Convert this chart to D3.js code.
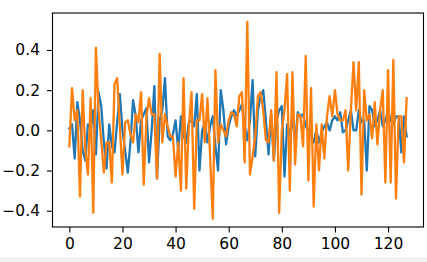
<!DOCTYPE html>
<html>
<head>
<meta charset="utf-8">
<script src="https://cdn.jsdelivr.net/npm/d3@7"></script>
<style>
  body { margin: 0; background: #f0f0f0; }
  svg { display: block; background: #ffffff; }
  text { font-family: "DejaVu Sans", sans-serif; }
</style>
</head>
<body>
<div id="chart"></div>
<script>
// series values, index 0..127
const blue = [
  0.01, 0.03, -0.14, 0.14, 0.05, -0.1, -0.15, 0.03, 0.0, 0.1,
  -0.12, 0.19, 0.12, -0.06, -0.19, 0.03, -0.08, -0.11, 0.04, 0.18,
  0.0, -0.1, -0.21, -0.06, 0.15, 0.07, -0.11, 0.05, 0.08, 0.11,
  -0.16, 0.0, 0.22, -0.24, 0.05, 0.1, 0.26, -0.03, -0.05, -0.02,
  0.05, -0.1, 0.07, -0.03, -0.06, 0.04, 0.05, 0.02, 0.18, -0.2,
  0.0, 0.04, -0.06, 0.02, 0.07, -0.08, -0.2, 0.2, 0.1, -0.07,
  0.02, 0.07, 0.1, 0.07, 0.1, 0.13, 0.02, -0.05, 0.05, 0.25,
  -0.13, 0.1, 0.17, 0.2, 0.05, -0.12, 0.08, -0.15, 0.05, 0.1,
  0.12, -0.23, 0.03, -0.03, 0.07, -0.06, 0.09, 0.07, 0.08, 0.02,
  0.0, -0.03, -0.06, 0.0, -0.06, -0.01, 0.02, 0.04, 0.0, 0.05,
  0.07, 0.05, 0.09, -0.01, 0.0, 0.05, 0.1, 0.0, 0.0, 0.1,
  0.04, 0.05, -0.2, 0.12, 0.1, 0.02, 0.05, 0.1, 0.02, 0.05,
  0.1, 0.05, 0.03, 0.07, 0.07, -0.11, 0.07, -0.03
];
const orange = [
  -0.08, 0.21, 0.05, 0.1, -0.33, 0.2, -0.1, -0.22, 0.16, -0.41,
  0.41, 0.1, -0.05, -0.21, -0.06, -0.06, -0.26, 0.23, 0.26, 0.02,
  -0.22, 0.04, 0.05, -0.02, -0.06, 0.08, 0.04, 0.19, -0.27, 0.06,
  0.16, 0.08, 0.08, -0.24, 0.38, -0.06, 0.08, 0.02, -0.03, -0.03,
  -0.23, -0.06, -0.3, 0.26, -0.29, 0.02, 0.19, -0.39, 0.05, 0.05,
  0.18, -0.06, 0.16, -0.13, -0.44, 0.3, -0.06, 0.03, 0.0, -0.03,
  0.05, 0.09, 0.08, 0.02, 0.17, 0.19, -0.16, 0.54, -0.22, -0.13,
  -0.03, 0.17, 0.19, 0.1, -0.05, -0.06, 0.1, -0.15, 0.29, -0.41,
  0.0, 0.1, 0.28, -0.3, 0.29, -0.17, 0.08, 0.07, -0.08, 0.37,
  -0.25, 0.21, -0.38, 0.03, -0.2, 0.03, -0.14, 0.07, 0.17, 0.07,
  0.2, 0.08, 0.05, 0.05, 0.1, -0.2, 0.1, 0.34, 0.1, 0.34,
  -0.32, 0.2, 0.05, 0.08, -0.04, 0.14, -0.07, 0.1, 0.2, -0.26,
  0.3, -0.26, 0.35, -0.34, 0.07, 0.07, -0.16, 0.16
];
const xTicks = [0, 20, 40, 60, 80, 100, 120];
const yTicks = [-0.4, -0.2, 0.0, 0.2, 0.4];

const W = 427, H = 257;
const margin = { top: 13, right: 3.5, bottom: 30, left: 52.5 };

const svg = d3.select("#chart")
  .append("svg")
  .attr("width", W)
  .attr("height", H);

const x = d3.scaleLinear()
  .domain([-6.35, 133.35])
  .range([margin.left, W - margin.right]);
const y = d3.scaleLinear()
  .domain([-0.481, 0.584])
  .range([H - margin.bottom, margin.top]);

const line = d3.line()
  .x((d, i) => x(i))
  .y(d => y(d));

const plot = svg.append("g");
plot.append("path")
  .datum(blue)
  .attr("fill", "none")
  .attr("stroke", "#1f77b4")
  .attr("stroke-width", 2.3)
  .attr("stroke-linejoin", "round")
  .attr("stroke-linecap", "square")
  .attr("d", line);
plot.append("path")
  .datum(orange)
  .attr("fill", "none")
  .attr("stroke", "#ff7f0e")
  .attr("stroke-width", 2.3)
  .attr("stroke-linejoin", "round")
  .attr("stroke-linecap", "square")
  .attr("d", line);

const fmt = v => d3.format(".1f")(v).replace("-", "\u2212");

// axes
const xAxis = svg.append("g")
  .attr("transform", `translate(0, ${H - margin.bottom})`)
  .call(d3.axisBottom(x).tickValues(xTicks).tickSize(5.5).tickPadding(5));
const yAxis = svg.append("g")
  .attr("transform", `translate(${margin.left}, 0)`)
  .call(d3.axisLeft(y).tickValues(yTicks).tickFormat(fmt).tickSize(5.5).tickPadding(7));

[xAxis, yAxis].forEach(g => {
  g.select(".domain").remove();
  g.selectAll(".tick line").attr("stroke", "#000").attr("stroke-width", 1.1);
  g.selectAll(".tick text")
    .attr("fill", "#000")
    .style("font-size", "15.5px")
    .style("font-family", "'DejaVu Sans', sans-serif");
});

// frame
svg.append("rect")
  .attr("x", margin.left)
  .attr("y", margin.top)
  .attr("width", W - margin.right - margin.left)
  .attr("height", H - margin.bottom - margin.top)
  .attr("fill", "none")
  .attr("stroke", "#000")
  .attr("stroke-width", 1.1);
</script>
</body>
</html>
